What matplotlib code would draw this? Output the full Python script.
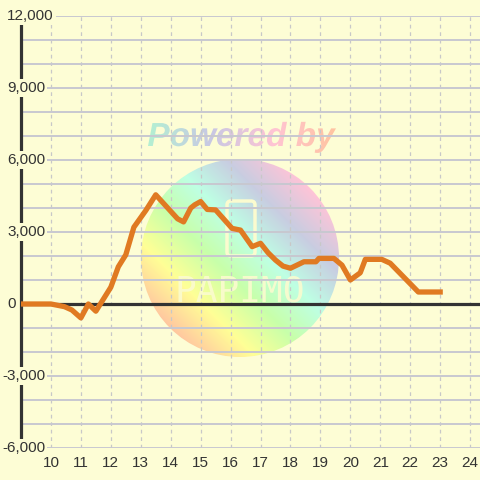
import numpy as np
import matplotlib
matplotlib.use('Agg')
import matplotlib.pyplot as plt
from matplotlib.patches import Circle, FancyBboxPatch
from matplotlib.textpath import TextPath
from matplotlib.font_manager import FontProperties
from matplotlib.transforms import Affine2D

# データ (時刻, 差枚)
hours = [9.0, 10.0, 10.45, 10.7, 11.0, 11.25, 11.5, 12.0, 12.25, 12.5, 12.77, 13.17,
         13.5, 14.23, 14.43, 14.67, 14.8, 15.0, 15.22, 15.5, 16.05, 16.33, 16.72, 17.0,
         17.25, 17.5, 17.75, 18.0, 18.45, 18.85, 18.95, 19.45, 19.72, 20.0, 20.33, 20.5,
         21.05, 21.33, 22.27, 23.0]
diff = [0, 0, -110, -250, -580, 0, -300, 700, 1550, 2050, 3200, 3900,
        4550, 3550, 3420, 4000, 4130, 4270, 3940, 3920, 3150, 3080, 2390, 2530,
        2140, 1830, 1580, 1490, 1760, 1760, 1900, 1900, 1620, 1000, 1300, 1860,
        1860, 1700, 500, 500]

yticks = [-6000, -3000, 0, 3000, 6000, 9000, 12000]
ylabels = ['-6,000', '-3,000', '0', '3,000', '6,000', '9,000', '12,000']
xticks = list(range(10, 25))

bg = '#fdfdd5'
txt = '#333333'

fig = plt.figure(figsize=(4.8, 4.8), dpi=100, facecolor=bg)

# 透かし (Powered by + ロゴ)
wm = fig.add_axes([0, 0, 1, 1], zorder=0)
wm.set_xlim(0, 480)
wm.set_ylim(480, 0)
wm.axis('off')

def grad_img(colors, n=256):
    colors = np.array(colors) / 255.0
    t = np.linspace(0, 1, n)
    pos = np.linspace(0, 1, len(colors))
    return np.stack([np.interp(t, pos, colors[:, i]) for i in range(3)], axis=-1)

circ_cols = [(255, 200, 160), (255, 255, 150), (200, 255, 170), (190, 255, 228),
             (200, 205, 225), (255, 196, 215)]
lut = grad_img(circ_cols)
cx, cy, r = 240, 258, 99
xx, yy = np.meshgrid(np.linspace(cx - r, cx + r, 200), np.linspace(cy - r, cy + r, 200))
t = np.clip((xx - yy + 158) / 280.0, 0, 1)
img = lut[(t * 255).astype(int)]
im = wm.imshow(img, extent=[cx - r, cx + r, cy + r, cy - r], origin='upper', interpolation='bilinear')
im.set_clip_path(Circle((cx, cy), r, transform=wm.transData))

# ロゴ
wm.add_patch(FancyBboxPatch((227, 201), 28, 55, boxstyle='round,pad=0,rounding_size=4',
                            fill=False, ec='#fbfbcf', lw=2.5))
wm.text(240, 291, 'PAPIMO', ha='center', va='center', fontsize=26, color='#fbfbcf',
        family='DejaVu Sans Mono', alpha=0.9)

# Powered by
fp = FontProperties(family='Liberation Sans', weight='bold', style='italic')
tp = TextPath((0, 0), 'Powered by', size=10, prop=fp)
ext = tp.get_extents()
s = 188 / ext.width
tr = Affine2D().translate(-ext.x0, 0).scale(s, -s).translate(148, 146)
text_cols = [(180, 240, 210), (200, 200, 228), (255, 196, 212), (255, 196, 160)]
tl = grad_img(text_cols)
timg = np.tile(tl[np.newaxis, :, :], (10, 1, 1))
im2 = wm.imshow(timg, extent=[148, 336, 155, 115], origin='upper', interpolation='bilinear')
im2.set_clip_path(tp, tr + wm.transData)
wm.set_xlim(0, 480)
wm.set_ylim(480, 0)

# メインのグラフ
ax = fig.add_axes([21 / 480, 32 / 480, 459 / 480, 432 / 480], zorder=1)
ax.set_facecolor('none')
ax.set_xlim(9.0, 24.33)
ax.set_ylim(-6000, 12000)

ax.set_yticks(yticks)
ax.set_yticks(range(-6000, 12001, 1000), minor=True)
ax.set_yticklabels([])
ax.set_xticks(xticks)
ax.set_xticklabels([str(x) for x in xticks])
ax.tick_params(axis='both', which='both', length=0)
ax.tick_params(axis='x', pad=6, labelsize=11, labelcolor=txt)
for lab in ax.get_xticklabels():
    lab.set_family('Liberation Sans')

ax.grid(axis='y', which='both', color='#c8c8d0', lw=1.4)
ax.grid(axis='x', which='major', color='#c8c8c8', lw=0.9, linestyle=(0, (3, 3)))

for sp in ['top', 'right', 'bottom']:
    ax.spines[sp].set_visible(False)
ax.spines['left'].set_color(txt)
ax.spines['left'].set_linewidth(2.3)

ax.axhline(0, color=txt, lw=2.3, zorder=2.6)

for v, lab in zip(yticks, ylabels):
    xpos = (2 - 21) / 459 if lab.startswith('-') else (7 - 21) / 459
    ax.text(xpos, v, lab, transform=ax.get_yaxis_transform(), ha='left', va='center',
            fontsize=11, color=txt, family='Liberation Sans', clip_on=False, zorder=4,
            bbox=dict(facecolor=bg, edgecolor='none', pad=1.5))

ax.plot(hours, diff, color='#e07a22', lw=3.8, solid_joinstyle='round', zorder=3)

fig.savefig('out.png', dpi=100, facecolor=bg)
